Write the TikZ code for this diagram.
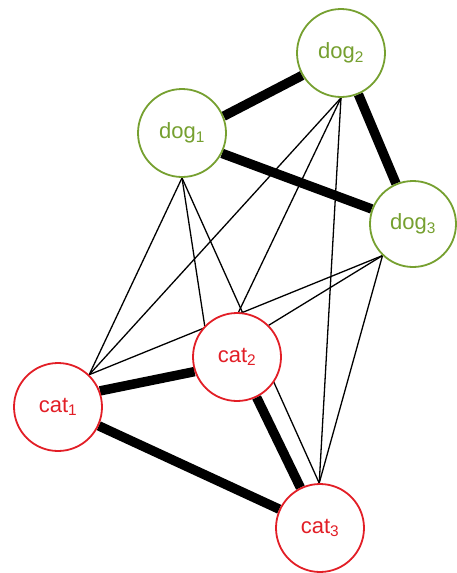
\documentclass[tikz,border=0pt]{standalone}
\usepackage{fontspec}
\setmainfont{Liberation Sans}
\definecolor{dogc}{RGB}{118,160,48}
\definecolor{catc}{RGB}{226,30,38}
\pgfdeclarelayer{edges}
\pgfsetlayers{edges,main}
\tikzset{
  animal/.style={circle, minimum size=88pt, inner sep=0pt, line width=1.8pt,
    fill=white, font=\fontsize{22}{26}\selectfont},
  dognode/.style={animal, draw=dogc, text=dogc},
  catnode/.style={animal, draw=catc, text=catc},
  weak/.style={line width=1.3pt, black},
  strong/.style={line width=9.5pt, black},
}
\begin{document}
\begin{tikzpicture}[x=1pt, y=-1pt]
\useasboundingbox (0,0) rectangle (456,573);

% vertices
\node[dognode] (dog2) at (341,53) {dog\textsubscript{2}};
\node[dognode] (dog1) at (182,133) {dog\textsubscript{1}};
\node[dognode, minimum size=86pt] (dog3) at (413,224) {dog\textsubscript{3}};
\node[catnode] (cat2) at (237,357) {cat\textsubscript{2}};
\node[catnode] (cat1) at (58,407) {cat\textsubscript{1}};
\node[catnode] (cat3) at (320,528) {cat\textsubscript{3}};

\begin{pgfonlayer}{edges}
  % weak links between the two groups
  \draw[weak] (dog1.south) -- (cat1.46);
  \draw[weak] (dog1.south) -- (cat2.136);
  \draw[weak] (dog1.south) -- (cat3.91);
  \draw[weak] (dog2.south) -- (cat1.46);
  \draw[weak] (dog2.south) -- (cat2.88);
  \draw[weak] (dog2.south) -- (cat3.91);
  \draw[weak] (dog3.226) -- (cat1.46);
  \draw[weak] (dog3.226) -- (cat2.45);
  \draw[weak] (dog3.226) -- (cat3.91);

  % strong links within each group
  \draw[strong] (dog1.22) -- (dog2.210);
  \draw[strong] (dog1.333) -- (dog3.160);
  \draw[strong] (dog2) -- (dog3);
  \draw[strong] (cat1.21) -- (cat2.199);
  \draw[strong] (cat1) -- (cat3);
  \draw[strong] (cat2) -- (cat3);
\end{pgfonlayer}
\end{tikzpicture}
\end{document}
